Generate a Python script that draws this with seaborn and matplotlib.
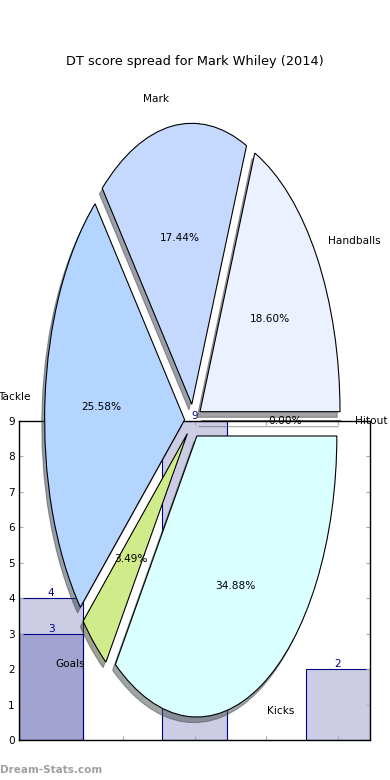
import matplotlib
matplotlib.use("Agg")
import matplotlib.pyplot as plt
import pandas as pd
import seaborn as sns

# pie: DT score share per stat
slice_labels = ["Handballs", "Mark", "Tackle", "Goals", "Kicks", "Hitout"]
slice_values = [16, 15, 22, 3, 30, 0]
slice_colors = ["#ebf1ff", "#c5d9ff", "#b4d5ff", "#d0ec8a", "#d9ffff", "#ffffff"]

# bars behind the pie (two overlapping series)
bar_pos = [0, 1, 2, 3, 4]
bar_front = [4, 0, 9, 0, 2]
bar_back = [3, 0, 0, 0, 0]

title = "DT score spread for Mark Whiley (2014)"
fs = 7.6

fig = plt.figure(figsize=(3.9, 7.8), dpi=100)

# bar axes
ax = fig.add_axes([19 / 390, 40 / 780, 351 / 390, 319 / 780])
df = pd.DataFrame({"pos": bar_pos, "front": bar_front, "back": bar_back})
for col in ["front", "back"]:
    sns.barplot(data=df, x="pos", y=col, order=bar_pos, width=0.9,
                color="navy", saturation=1, ax=ax)
for p in ax.patches:
    p.set_facecolor((0, 0, 0.5, 0.2))
    p.set_edgecolor("navy")
    p.set_linewidth(0.8)
    if p.get_height() == 0:
        p.set_visible(False)

for vals in (bar_front, bar_back):
    for x, v in zip(bar_pos, vals):
        if v:
            ax.text(x, v, str(v), ha="center", va="bottom", color="navy", fontsize=fs)

ax.set_xlim(-0.45, 4.45)
ax.set_ylim(0, 9)
ax.set_xticks(bar_pos)
ax.set_xticklabels([])
ax.set_yticks(range(10))
ax.set_xlabel("")
ax.set_ylabel("")
ax.tick_params(direction="in", length=3, color="#aaaaaa", top=True, right=True,
               labelsize=fs, pad=3)
for s in ax.spines.values():
    s.set_color("black")
    s.set_linewidth(1)

# pie on top, stretched (no equal aspect)
pax = fig.add_axes([0, 0, 1, 1])
pax.patch.set_alpha(0)
pax.pie(slice_values, labels=slice_labels, colors=slice_colors,
        explode=[0.06] * len(slice_values), autopct="%.2f%%",
        shadow=dict(ox=-0.0144, oy=-0.0144, label="_nolegend_"),
        startangle=0, labeldistance=1.1, pctdistance=0.6,
        wedgeprops=dict(edgecolor="black", linewidth=0.8),
        textprops=dict(fontsize=fs))
pax.set_aspect("auto")
pax.set_xlim(-193 / 140, 197 / 140)
pax.set_ylim(-359 / 281, 421 / 281)
pax.axis("off")

fig.text(0.5, 1 - 61 / 780, title, ha="center", va="center", fontsize=9.3)
fig.text(0.0, 1 - 770 / 780, "Dream-Stats.com", ha="left", va="center",
         fontsize=7.5, fontweight="bold", color="#a0a0a0")

fig.savefig("out.png", dpi=100)
